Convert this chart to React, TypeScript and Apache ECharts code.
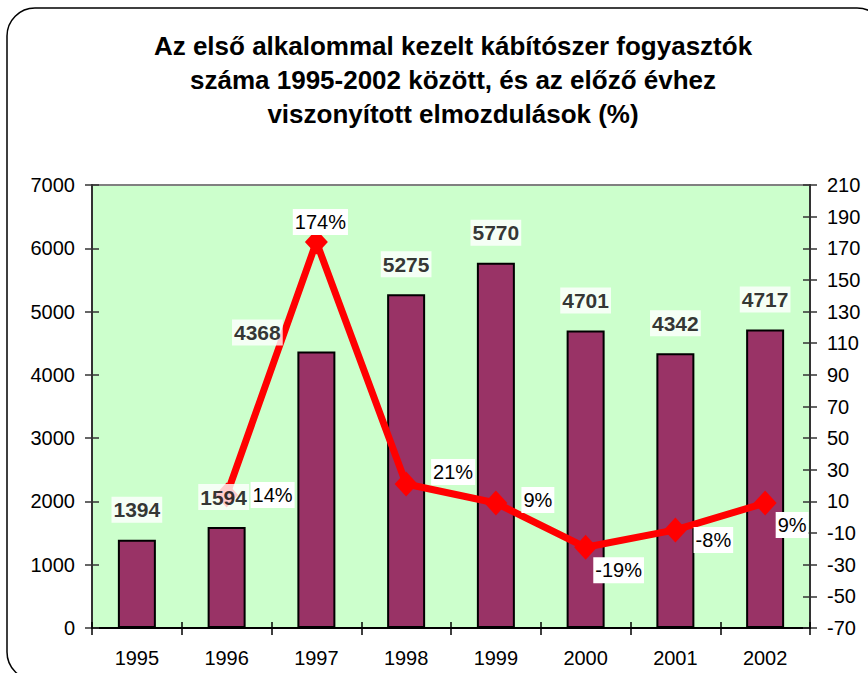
import React, { useEffect, useRef } from "react";
import * as echarts from "echarts";

const titleLines = [
  "Az első alkalommal kezelt kábítószer fogyasztók",
  "száma 1995-2002 között, és az előző évhez",
  "viszonyított elmozdulások (%)",
];
const categories = ["1995", "1996", "1997", "1998", "1999", "2000", "2001", "2002"];
const counts = [1394, 1594, 4368, 5275, 5770, 4701, 4342, 4717];
const changes: (number | null)[] = [null, 14, 174, 21, 9, -19, -8, 9];

const leftAxis = { min: 0, max: 7000, interval: 1000 };
const rightAxis = { min: -70, max: 210, interval: 20 };

// label placement (style, not data)
const countLabelOffsets = [
  [0, -30], [-3, -30], [-59, -19], [0, -30], [0, -30], [0, -30], [0, -30], [0, -30],
];
const changeLabelOffsets = [
  [0, 0], [46, 0], [4, -20], [47, -12], [42, -3], [33, 23], [38, 10], [27, 22],
];

const FONT = "Arial, 'Liberation Sans', sans-serif";

export default function App() {
  const ref = useRef<HTMLDivElement>(null);
  useEffect(() => {
    if (!ref.current) return;
    const chart = echarts.init(ref.current, undefined, { renderer: "svg" });
    const axisLabelStyle = {
      color: "#000",
      fontSize: 20,
      fontFamily: FONT,
      formatter: (v: any) => String(v),
    };
    chart.setOption({
      animation: false,
      backgroundColor: "#fff",
      textStyle: { fontFamily: FONT },
      graphic: [
        {
          type: "rect",
          shape: { x: 7, y: 8, width: 878, height: 672, r: 28 },
          style: { fill: "none", stroke: "#000", lineWidth: 1.5 },
          z: 100,
        },
        {
          type: "text",
          x: 453,
          y: 29,
          style: {
            text: titleLines.join("\n"),
            font: `bold 26px ${FONT}`,
            fill: "#000",
            textAlign: "center",
            textVerticalAlign: "top",
            lineHeight: 34,
          },
        },
      ],
      grid: {
        left: 92,
        right: 58,
        top: 185,
        bottom: 45,
        show: true,
        backgroundColor: "#CCFFCC",
        borderColor: "#808080",
        borderWidth: 2,
      },
      xAxis: [
        {
          type: "category",
          data: categories,
          boundaryGap: true,
          axisLine: { onZero: false, lineStyle: { color: "#000", width: 2 } },
          axisTick: { show: true, length: 7, lineStyle: { color: "#000", width: 1.5 } },
          axisLabel: { color: "#000", fontSize: 20, fontFamily: FONT, margin: 20 },
          splitLine: { show: false },
        },
        {
          type: "category",
          data: categories,
          position: "bottom",
          boundaryGap: true,
          axisLine: { show: false, onZero: false },
          axisTick: { show: true, inside: true, length: 6, lineStyle: { color: "#000", width: 1.5 } },
          axisLabel: { show: false },
          splitLine: { show: false },
        },
      ],
      yAxis: [
        {
          type: "value",
          position: "left",
          ...leftAxis,
          axisLine: { show: true, onZero: false, lineStyle: { color: "#333", width: 2 } },
          axisTick: { show: true, length: 7, lineStyle: { color: "#333", width: 1.5 } },
          axisLabel: { ...axisLabelStyle, margin: 17 },
          splitLine: { show: false },
        },
        {
          type: "value",
          position: "right",
          ...rightAxis,
          axisLine: { show: true, onZero: false, lineStyle: { color: "#333", width: 2 } },
          axisTick: { show: true, length: 7, lineStyle: { color: "#333", width: 1.5 } },
          axisLabel: { ...axisLabelStyle, margin: 17 },
          splitLine: { show: false },
        },
        {
          type: "value",
          position: "left",
          ...leftAxis,
          axisLine: { show: false, onZero: false },
          axisTick: { show: true, inside: true, length: 7, lineStyle: { color: "#333", width: 1.5 } },
          axisLabel: { show: false },
          splitLine: { show: false },
        },
        {
          type: "value",
          position: "right",
          ...rightAxis,
          axisLine: { show: false, onZero: false },
          axisTick: { show: true, inside: true, length: 7, lineStyle: { color: "#333", width: 1.5 } },
          axisLabel: { show: false },
          splitLine: { show: false },
        },
      ],
      series: [
        {
          type: "bar",
          xAxisIndex: 0,
          yAxisIndex: 0,
          data: counts,
          barWidth: 38,
          z: 2,
          itemStyle: { color: "#993366", borderColor: "#000", borderWidth: 2 },
        },
        {
          type: "line",
          xAxisIndex: 0,
          yAxisIndex: 1,
          z: 3,
          data: changes.map((v, i) => ({
            value: v,
            label: {
              show: v !== null,
              position: "inside",
              offset: changeLabelOffsets[i],
            },
          })),
          symbol: "diamond",
          symbolSize: [23, 25],
          lineStyle: { color: "#FF0000", width: 7 },
          itemStyle: { color: "#FF0000" },
          label: {
            formatter: (p: any) => `${p.value}%`,
            color: "#000",
            textBorderWidth: 0,
            fontSize: 20,
            fontFamily: FONT,
            backgroundColor: "#fff",
            padding: [2, 2],
            lineHeight: 22,
          },
        },
        {
          type: "scatter",
          xAxisIndex: 0,
          yAxisIndex: 0,
          z: 5,
          symbolSize: 1,
          itemStyle: { color: "rgba(0,0,0,0)" },
          data: counts.map((v, i) => ({
            value: v,
            label: { show: true, position: "inside", offset: countLabelOffsets[i] },
          })),
          label: {
            formatter: (p: any) => `${p.value}`,
            color: "#000",
            textBorderWidth: 0,
            fontSize: 21,
            fontWeight: "bold",
            fontFamily: FONT,
            backgroundColor: "#fff",
            padding: [2, 2],
            lineHeight: 22,
          },
        },
      ],
    });
    return () => chart.dispose();
  }, []);
  return (
    <div
      ref={ref}
      style={{ position: "absolute", left: 0, top: 0, width: 868, height: 673 }}
    />
  );
}
